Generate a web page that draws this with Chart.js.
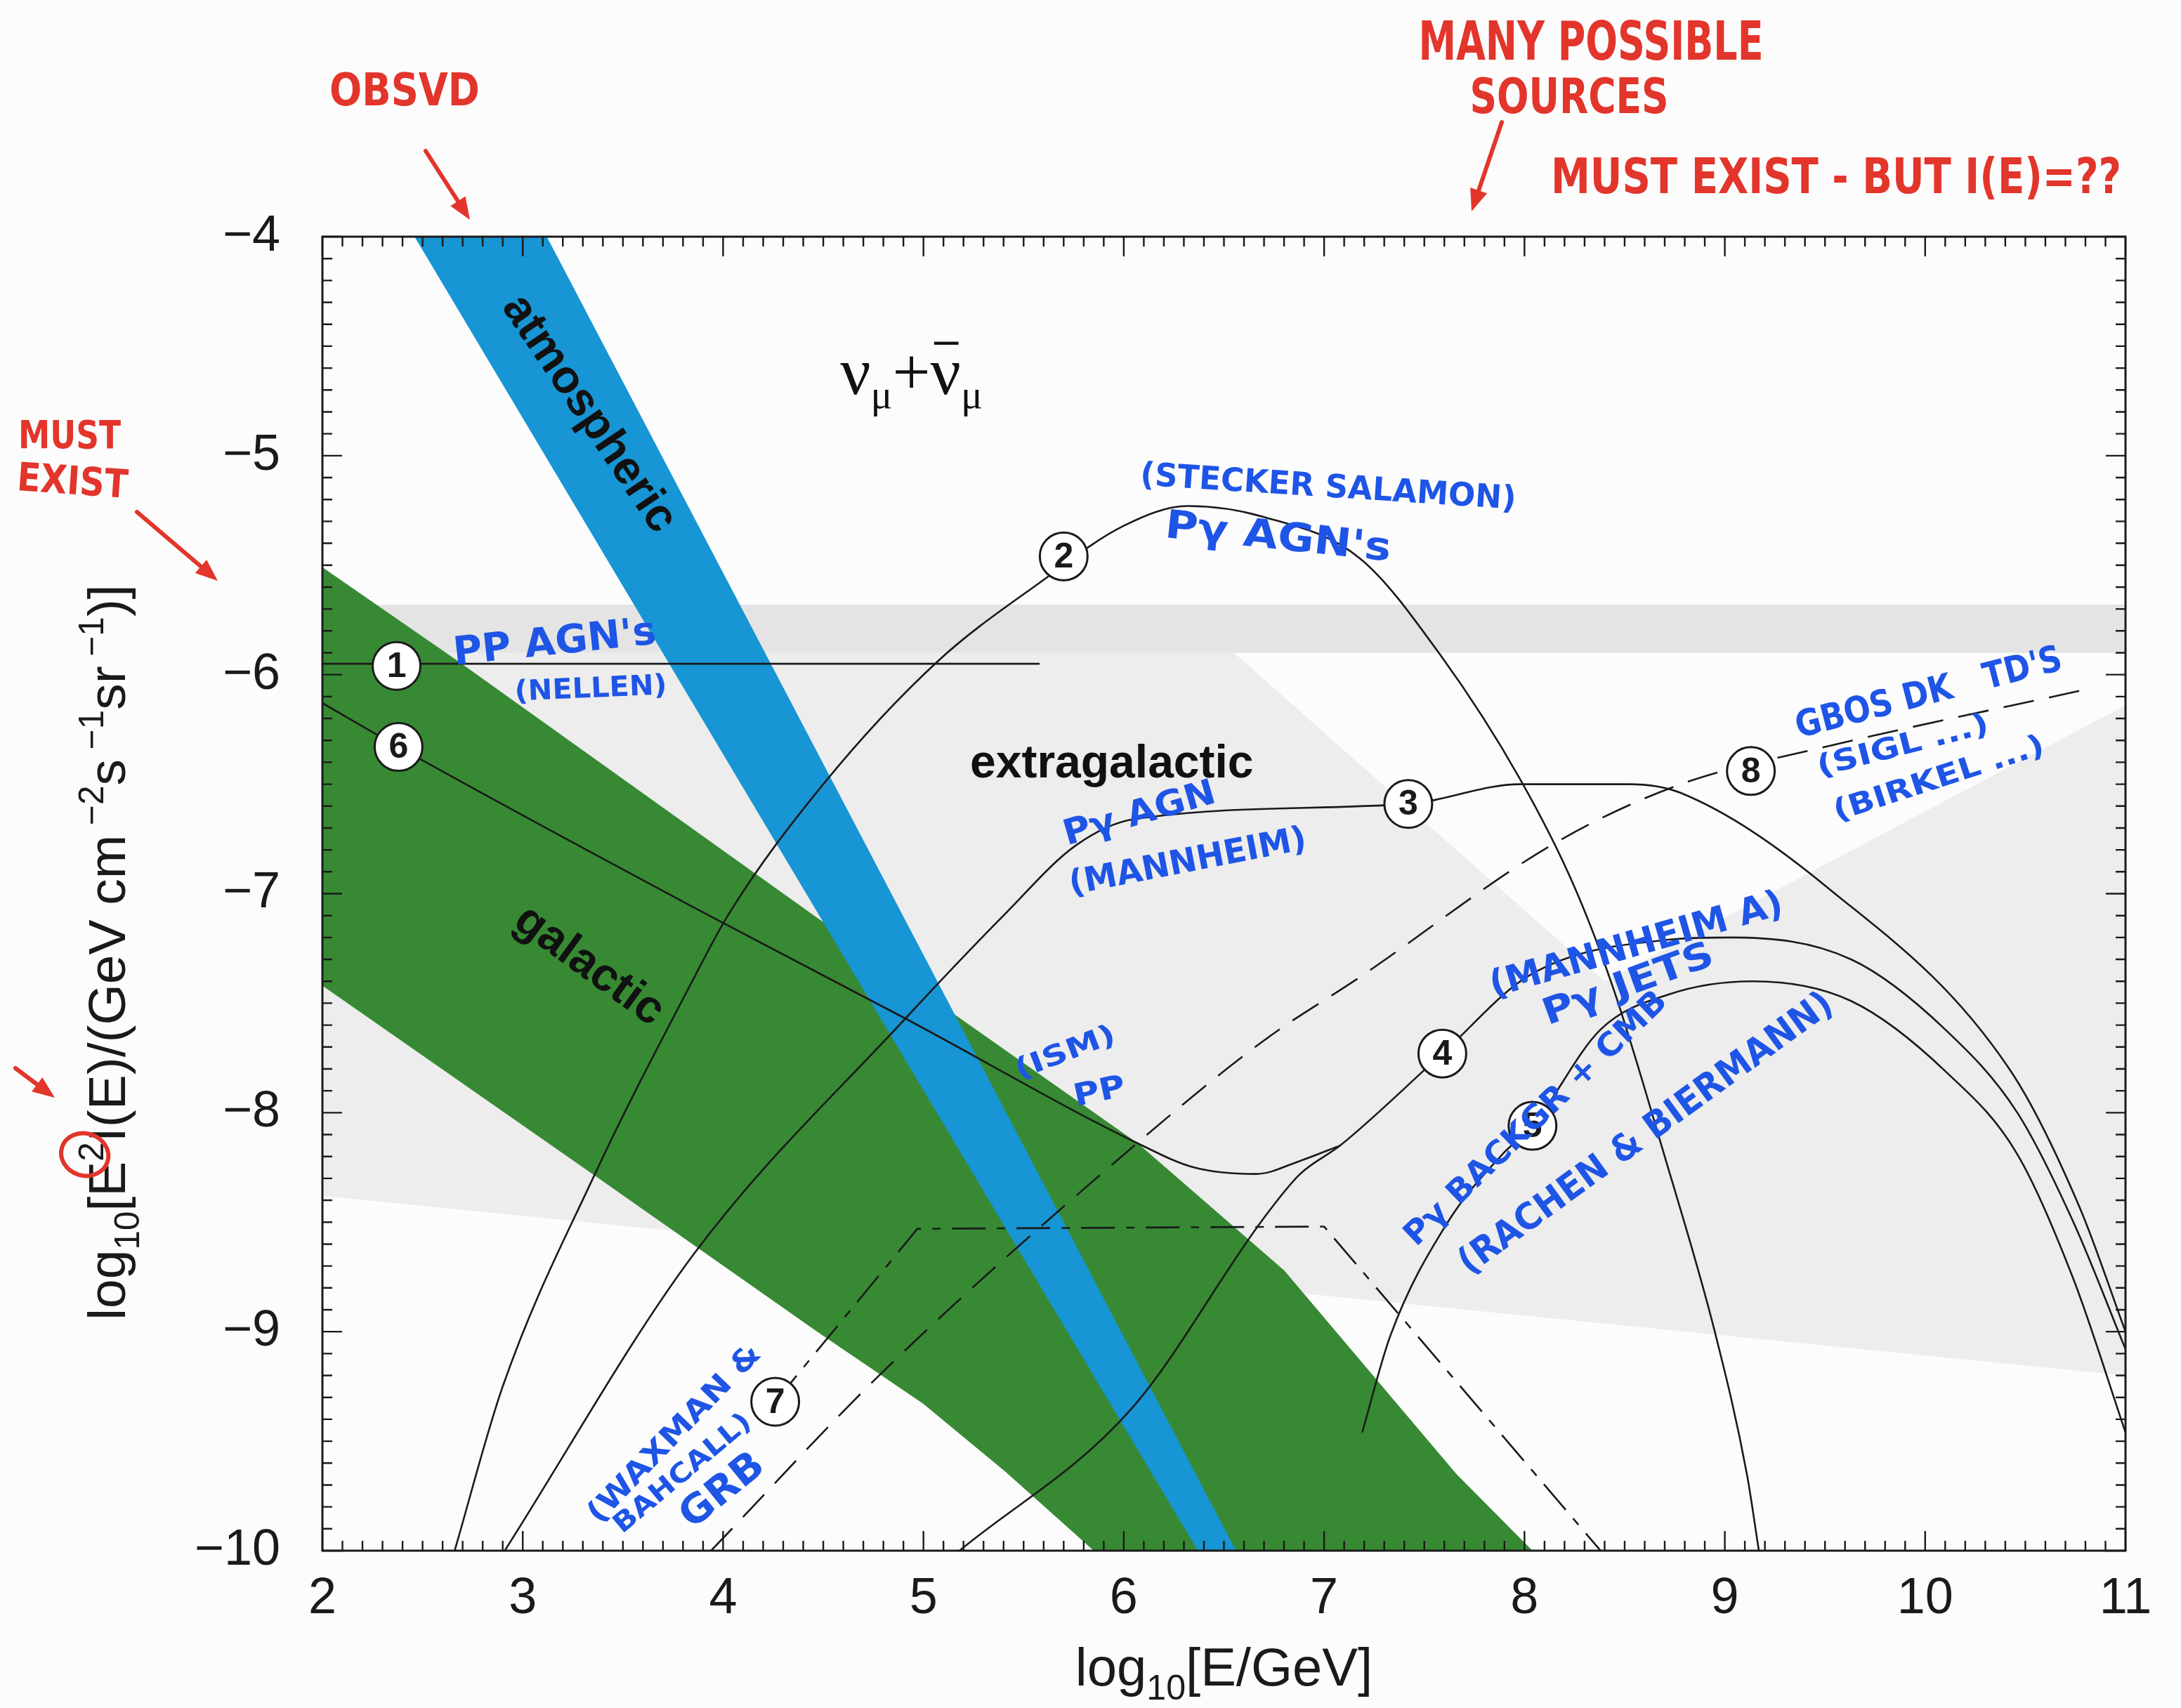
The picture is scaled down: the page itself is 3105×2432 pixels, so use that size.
<!DOCTYPE html>
<html>
<head>
<meta charset="utf-8">
<script src="https://cdn.jsdelivr.net/npm/chart.js@4.4.1/dist/chart.umd.min.js"></script>
<style>
  html, body { margin: 0; padding: 0; background: #fcfcfc; }
  canvas { display: block; }
</style>
</head>
<body>
<canvas id="flux" width="3105" height="2432"></canvas>
<script>
// ---- axes ----
const xTicks = [2, 3, 4, 5, 6, 7, 8, 9, 10, 11];
const yTicks = [-10, -9, -8, -7, -6, -5, -4];

// ---- shaded regions (outline vertices) ----
// light grey "extragalactic" region
const egAreaX = [2, 6.55, 8.4, 11, 11, 2];
const egAreaY = [-5.90, -5.90, -7.40, -6.14, -9.20, -8.38];
// darker grey strip along its upper edge
const egStripX = [2, 11, 11, 2];
const egStripY = [-5.68, -5.68, -5.90, -5.90];
// galactic band: upper edge left to right, lower edge back
const galX = [2, 2.68, 4.5, 6.07, 6.8, 7.66, 8.04, 5.85, 5.41, 5.0, 4.47, 3.38, 2];
const galY = [-5.51, -5.94, -7.13, -8.14, -8.72, -9.65, -10, -10, -9.64, -9.33, -9.0, -8.30, -7.42];
// atmospheric band
const atmX = [2.46, 3.12, 6.56, 6.37];
const atmY = [-4, -4, -10, -10];

// ---- model curves ----
const c1X = [2, 5.58];
const c1Y = [-5.95, -5.95];
const c2X = [2.66, 2.9, 3.35, 3.84, 4.03, 4.5, 5.07, 5.58, 6.0, 6.32, 6.7, 7.18, 7.58, 7.98, 8.25, 8.45, 8.7, 8.95, 9.11, 9.17];
const c2Y = [-10, -9.25, -8.30, -7.41, -7.09, -6.50, -5.94, -5.58, -5.32, -5.23, -5.28, -5.47, -5.91, -6.48, -6.97, -7.45, -8.2, -9.0, -9.65, -10];
const c3X = [2.91, 3.85, 4.91, 5.41, 5.76, 6.05, 7.42, 7.98, 8.52, 8.78, 9.51, 10.42, 10.77, 11];
const c3Y = [-10, -8.65, -7.57, -7.09, -6.78, -6.66, -6.59, -6.50, -6.50, -6.54, -6.97, -7.80, -8.43, -9.0];
const c4X = [5.18, 6.04, 6.70, 6.88, 7.08, 7.59, 8.03, 8.72, 9.03, 9.63, 10.1, 10.46, 10.74, 11];
const c4Y = [-10, -9.35, -8.48, -8.28, -8.15, -7.73, -7.37, -7.21, -7.20, -7.30, -7.62, -8.0, -8.5, -9.08];
const c5X = [7.19, 7.33, 7.61, 7.89, 8.04, 8.38, 8.72, 9.14, 9.63, 10.1, 10.46, 10.74, 11];
const c5Y = [-9.46, -9.02, -8.51, -8.19, -8.06, -7.62, -7.46, -7.40, -7.49, -7.81, -8.19, -8.76, -9.46];
const c6X = [2, 2.38, 3.91, 4.91, 6.07, 6.35, 6.66, 6.88, 7.08];
const c6Y = [-6.13, -6.33, -7.09, -7.57, -8.14, -8.25, -8.28, -8.22, -8.15];
const c7X = [4.26, 4.97, 7.0, 8.38];
const c7Y = [-9.32, -8.53, -8.52, -10];
const c8X = [3.94, 4.79, 6.04, 6.70, 7.18, 8.15, 8.78, 9.5, 10.84];
const c8Y = [-10, -9.19, -8.16, -7.67, -7.38, -6.77, -6.50, -6.33, -6.06];

// ---- numbered curve markers ----
const markerX = [2.37, 5.70, 7.42, 7.59, 8.04, 2.38, 4.26, 9.13];
const markerY = [-5.96, -5.46, -6.59, -7.73, -8.06, -6.33, -9.32, -6.44];
const markerText = ['1', '2', '3', '4', '5', '6', '7', '8'];

const FONT = "'Liberation Sans', Arial, Helvetica, sans-serif";
const SERIF = "'Liberation Serif', 'Times New Roman', serif";
const HAND = "'DejaVu Sans', sans-serif";
const INK = '#1a1a1a';
const RED = '#e2352b';
const BLUE = '#1f55e6';

function pts(xs, ys) { return xs.map((v, i) => ({ x: v, y: ys[i] })); }

function areaSet(label, xs, ys, color, order) {
  return {
    label, data: pts(xs, ys), fill: 'shape', backgroundColor: color,
    borderColor: 'rgba(0,0,0,0)', borderWidth: 0, pointRadius: 0, tension: 0, order, clip: 0
  };
}
function curveSet(label, xs, ys, extra) {
  return Object.assign({
    label, data: pts(xs, ys), borderColor: INK, borderWidth: 2.6, pointRadius: 0,
    fill: false, cubicInterpolationMode: 'monotone', order: 3, clip: 0
  }, extra || {});
}

// ---- text helpers ----
function drawRich(ctx, parts, x, y, size, family, align) {
  const items = [];
  let total = 0;
  for (const p of parts) {
    const s = size * (p.s || 1);
    ctx.font = `${p.w || ''} ${s}px ${family}`;
    const w = ctx.measureText(p.t).width;
    items.push({ p, s, w, u: total });
    total += w + (p.gap || 0) * size;
  }
  const start = align === 'center' ? x - total / 2 : x;
  for (const it of items) {
    ctx.font = `${it.p.w || ''} ${it.s}px ${family}`;
    const dy = (it.p.dy || 0) * size;
    ctx.fillText(it.p.t, start + it.u, y + dy);
    if (it.p.bar) {
      ctx.fillRect(start + it.u + it.w * 0.12, y + dy - it.s * 0.78, it.w * 0.8, it.s * 0.045);
    }
    it.x0 = start + it.u;
    it.dyPx = dy;
  }
  return items;
}

function fitText(ctx, text, cx, cy, width, size, angle, color, weight) {
  ctx.save();
  ctx.font = `${weight || 'bold'} ${size}px ${HAND}`;
  const w = ctx.measureText(text).width;
  ctx.translate(cx, cy);
  ctx.rotate(angle * Math.PI / 180);
  ctx.scale(width / w, 1);
  ctx.fillStyle = color;
  ctx.textAlign = 'center';
  ctx.textBaseline = 'middle';
  ctx.fillText(text, 0, 0);
  ctx.restore();
}

function arrow(ctx, x1, y1, x2, y2, color, lw) {
  const a = Math.atan2(y2 - y1, x2 - x1);
  const h = 34;
  ctx.save();
  ctx.strokeStyle = color; ctx.fillStyle = color; ctx.lineWidth = lw; ctx.lineCap = 'round';
  ctx.beginPath(); ctx.moveTo(x1, y1); ctx.lineTo(x2 - Math.cos(a) * h * 0.6, y2 - Math.sin(a) * h * 0.6); ctx.stroke();
  ctx.beginPath();
  ctx.moveTo(x2, y2);
  ctx.lineTo(x2 - h * Math.cos(a - 0.38), y2 - h * Math.sin(a - 0.38));
  ctx.lineTo(x2 - h * Math.cos(a + 0.38), y2 - h * Math.sin(a + 0.38));
  ctx.closePath(); ctx.fill();
  ctx.restore();
}

// handwritten notes placed in data coordinates: [text, x, y, width(px), size(px), angle(deg)]
const blueNotes = [
  ["PP AGN's", 3.16, -5.86, 290, 56, -6],
  ['(NELLEN)', 3.34, -6.07, 217, 40, -2.5],
  ['(STECKER SALAMON)', 7.02, -5.15, 536, 46, 3.7],
  ["P\u03b3 AGN's", 6.77, -5.38, 323, 56, 6],
  ['P\u03b3 AGN', 6.08, -6.64, 223, 50, -16],
  ['(MANNHEIM)', 6.32, -6.86, 343, 48, -11],
  ['(ISM)', 5.71, -7.73, 150, 40, -21],
  ['PP', 5.88, -7.91, 74, 44, -12],
  ['(MANNHEIM A)', 8.56, -7.24, 432, 52, -16],
  ['P\u03b3 JETS', 8.52, -7.42, 255, 52, -20],
  ['P\u03b3 BACKGR + CMB', 8.06, -8.03, 500, 46, -44],
  ['(RACHEN & BIERMANN)', 8.61, -8.10, 645, 52, -36],
  ["GBOS DK   TD'S", 10.02, -6.09, 390, 52, -14.5],
  ['(SIGL ...)', 9.89, -6.33, 251, 42, -14.5],
  ['(BIRKEL ...)', 10.07, -6.48, 313, 42, -18],
  ['(WAXMAN &', 3.76, -9.47, 335, 42, -46],
  ['BAHCALL)', 3.80, -9.65, 243, 38, -40],
  ['GRB', 4.0, -9.73, 137, 56, -39]
];

const decor = {
  id: 'decor',
  beforeDraw(chart) {
    const ctx = chart.ctx;
    ctx.save();
    ctx.fillStyle = '#fcfcfc';
    ctx.fillRect(0, 0, chart.width, chart.height);
    ctx.restore();
  },
  afterDraw(chart) {
    const { ctx, chartArea: a, scales: { x, y } } = chart;
    ctx.save();
    // frame with inward ticks on all four sides
    ctx.strokeStyle = INK;
    ctx.lineWidth = 3;
    ctx.strokeRect(a.left, a.top, a.right - a.left, a.bottom - a.top);
    ctx.lineWidth = 2.4;
    ctx.beginPath();
    const xmin = xTicks[0], xmax = xTicks[xTicks.length - 1];
    for (let i = 0; i <= (xmax - xmin) * 10; i++) {
      const px = x.getPixelForValue(xmin + i / 10);
      const L = i % 10 === 0 ? 28 : 14;
      ctx.moveTo(px, a.bottom); ctx.lineTo(px, a.bottom - L);
      ctx.moveTo(px, a.top); ctx.lineTo(px, a.top + L);
    }
    const ymin = yTicks[0], ymax = yTicks[yTicks.length - 1];
    for (let i = 0; i <= (ymax - ymin) * 10; i++) {
      const py = y.getPixelForValue(ymin + i / 10);
      const L = i % 10 === 0 ? 28 : 14;
      ctx.moveTo(a.left, py); ctx.lineTo(a.left + L, py);
      ctx.moveTo(a.right, py); ctx.lineTo(a.right - L, py);
    }
    ctx.stroke();

    // numbers inside the curve markers
    ctx.fillStyle = INK;
    ctx.font = `bold 50px ${FONT}`;
    ctx.textAlign = 'center';
    ctx.textBaseline = 'middle';
    markerText.forEach((t, i) => {
      ctx.fillText(t, x.getPixelForValue(markerX[i]), y.getPixelForValue(markerY[i]) + 2);
    });

    // region labels
    const label = (t, vx, vy, ang) => {
      ctx.save();
      ctx.translate(x.getPixelForValue(vx), y.getPixelForValue(vy));
      ctx.rotate(ang * Math.PI / 180);
      ctx.font = `bold 66px ${FONT}`;
      ctx.textAlign = 'center'; ctx.textBaseline = 'middle';
      ctx.fillStyle = '#111';
      ctx.fillText(t, 0, 0);
      ctx.restore();
    };
    label('atmospheric', 3.33, -4.81, 56);
    label('extragalactic', 5.94, -6.41, 0);
    label('galactic', 3.33, -7.33, 36);

    // flavour label
    ctx.fillStyle = '#111';
    ctx.textAlign = 'left'; ctx.textBaseline = 'alphabetic';
    drawRich(ctx, [
      { t: '\u03bd' }, { t: '\u03bc', s: 0.6, dy: 0.2 }, { t: '+' },
      { t: '\u03bd', bar: true }, { t: '\u03bc', s: 0.6, dy: 0.2 }
    ], x.getPixelForValue(4.94), y.getPixelForValue(-4.63) + 28, 96, SERIF, 'center');

    // axis titles
    ctx.fillStyle = INK;
    drawRich(ctx, [
      { t: 'log' }, { t: '10', s: 0.66, dy: 0.26 }, { t: '[E/GeV]' }
    ], (a.left + a.right) / 2, 2400, 76, FONT, 'center');

    ctx.save();
    const tcx = 178, tcy = 1356;
    ctx.translate(tcx, tcy);
    ctx.rotate(-Math.PI / 2);
    const items = drawRich(ctx, [
      { t: 'log' }, { t: '10', s: 0.66, dy: 0.26 }, { t: '[E' },
      { t: '2', s: 0.66, dy: -0.42 }, { t: 'I(E)/(GeV cm' },
      { t: ' \u22122', s: 0.66, dy: -0.42 }, { t: 's' },
      { t: ' \u22121', s: 0.66, dy: -0.42 }, { t: 'sr' },
      { t: ' \u22121', s: 0.66, dy: -0.42 }, { t: ')]' }
    ], 0, 0, 75, FONT, 'center');
    ctx.restore();
    // red ring around the squared E
    const sq = items[3];
    const u = sq.x0 + sq.w / 2, v = sq.dyPx - sq.s * 0.36;
    const rx = tcx + v, ry = tcy - u;
    ctx.save();
    ctx.strokeStyle = RED; ctx.lineWidth = 6;
    ctx.beginPath(); ctx.ellipse(rx - 8, ry + 4, 34, 30, 0.3, 0, Math.PI * 2); ctx.stroke();
    ctx.restore();

    // blue notes
    for (const [t, vx, vy, w, s, ang] of blueNotes) {
      fitText(ctx, t, x.getPixelForValue(vx), y.getPixelForValue(vy), w, s, ang, BLUE, 'bold');
    }

    // red notes around the frame
    fitText(ctx, 'OBSVD', 576, 133, 214, 64, 0, RED, 'bold');
    arrow(ctx, 606, 215, 669, 313, RED, 6);
    fitText(ctx, 'MUST', 99, 623, 146, 56, 0, RED, 'bold');
    fitText(ctx, 'EXIST', 103, 689, 158, 56, 4, RED, 'bold');
    arrow(ctx, 195, 729, 310, 827, RED, 6);
    arrow(ctx, 22, 1521, 78, 1563, RED, 6);
    fitText(ctx, 'MANY POSSIBLE', 2265, 65, 491, 76, 0, RED, 'bold');
    fitText(ctx, 'SOURCES', 2234, 143, 283, 70, 0, RED, 'bold');
    arrow(ctx, 2138, 174, 2095, 301, RED, 6);
    fitText(ctx, 'MUST EXIST - BUT I(E)=??', 2614, 257, 812, 70, 0, RED, 'bold');
    ctx.restore();
  }
};

new Chart(document.getElementById('flux'), {
  type: 'line',
  data: {
    datasets: [
      areaSet('extragalactic', egAreaX, egAreaY, '#ededed', 12),
      areaSet('extragalactic edge', egStripX, egStripY, '#e4e4e4', 11),
      areaSet('galactic', galX, galY, '#378a33', 10),
      areaSet('atmospheric', atmX, atmY, '#1795d4', 9),
      curveSet('1', c1X, c1Y, { tension: 0, cubicInterpolationMode: 'default' }),
      curveSet('2', c2X, c2Y),
      curveSet('3', c3X, c3Y),
      curveSet('4', c4X, c4Y),
      curveSet('5', c5X, c5Y),
      curveSet('6', c6X, c6Y),
      curveSet('7', c7X, c7Y, { tension: 0, cubicInterpolationMode: 'default', borderDash: [48, 16, 12, 16] }),
      curveSet('8', c8X, c8Y, { borderDash: [44, 22] }),
      {
        label: 'markers', data: pts(markerX, markerY), showLine: false,
        pointRadius: 34, pointBackgroundColor: '#ffffff', pointBorderColor: INK,
        pointBorderWidth: 3, order: 0, clip: false
      }
    ]
  },
  options: {
    responsive: false,
    animation: false,
    events: [],
    layout: { padding: { top: 337, right: 79, left: 0, bottom: 0 } },
    plugins: { legend: { display: false }, tooltip: { enabled: false } },
    scales: {
      x: {
        type: 'linear', min: 2, max: 11, position: 'bottom',
        afterFit(s) { s.height = 224; },
        afterBuildTicks(s) { s.ticks = xTicks.map(v => ({ value: v })); },
        grid: { display: false, drawTicks: false },
        border: { display: false },
        ticks: {
          font: { family: FONT, size: 72 }, color: INK, padding: 26,
          maxRotation: 0, autoSkip: false, callback: v => String(v)
        }
      },
      y: {
        type: 'linear', min: -10, max: -4, position: 'left',
        afterFit(s) { s.width = 459; },
        afterBuildTicks(s) { s.ticks = yTicks.map(v => ({ value: v })); },
        grid: { display: false, drawTicks: false },
        border: { display: false },
        ticks: {
          font: { family: FONT, size: 72 }, color: INK, padding: 60,
          autoSkip: false, callback: v => (v < 0 ? '\u2212' : '') + Math.abs(v)
        }
      }
    }
  },
  plugins: [decor]
});
</script>
</body>
</html>
